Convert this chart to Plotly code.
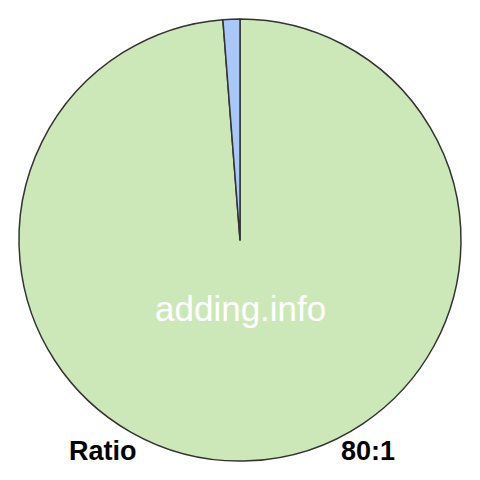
import plotly.graph_objects as go

labels = ['80', '1']
values = [80, 1]
colors = ['#cde8b8', '#a9c8f7']

fig = go.Figure(go.Pie(
    labels=labels,
    values=values,
    sort=False,
    direction='clockwise',
    marker=dict(colors=colors, line=dict(color='#333333', width=1.5)),
    textinfo='none',
    hoverinfo='skip',
    showlegend=False,
))

# pixel -> paper coords (plot area 19..461)
def px(x, y):
    return (x - 19) / 442, 1 - (y - 19) / 442

ax, ay = px(240, 308)
rx, ry = px(103, 451)
nx, ny = px(368, 451)

fig.update_layout(
    width=480,
    height=480,
    margin=dict(l=19, r=19, t=19, b=19),
    paper_bgcolor='white',
    font=dict(family='Arial, Liberation Sans, sans-serif'),
    annotations=[
        dict(text='adding.info', x=ax, y=ay, xref='paper', yref='paper',
             xanchor='center', yanchor='middle',
             showarrow=False, font=dict(size=35, color='white')),
        dict(text='<b>Ratio</b>', x=rx, y=ry, xref='paper', yref='paper',
             xanchor='center', yanchor='middle',
             showarrow=False, font=dict(size=27, color='black')),
        dict(text='<b>80:1</b>', x=nx, y=ny, xref='paper', yref='paper',
             xanchor='center', yanchor='middle',
             showarrow=False, font=dict(size=27, color='black')),
    ],
)

fig.write_html("out.html", config={'displayModeBar': False},
               post_script="document.body.style.margin='0px';")
